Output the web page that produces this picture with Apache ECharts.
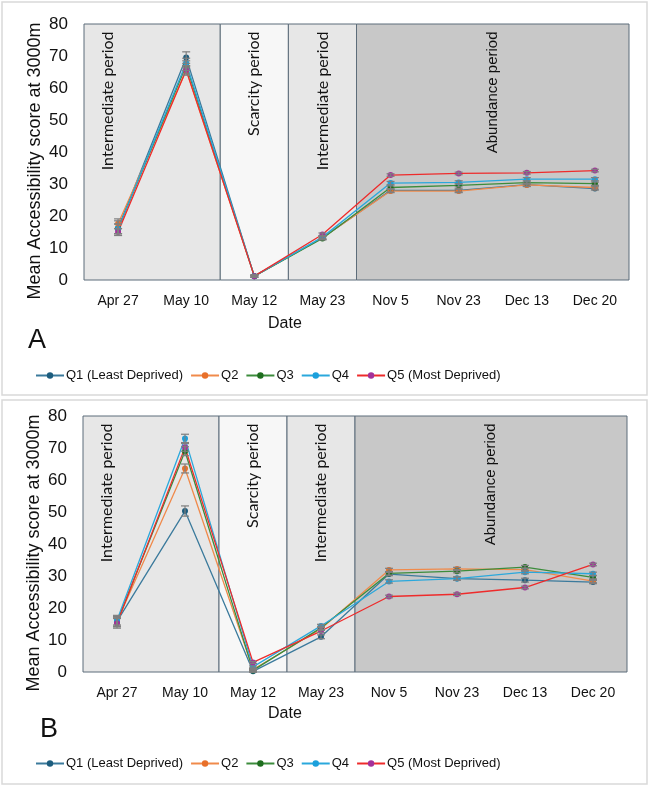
<!DOCTYPE html>
<html>
<head>
<meta charset="utf-8">
<script src="https://cdn.jsdelivr.net/npm/echarts@6/dist/echarts.min.js"></script>
<style>html,body{margin:0;padding:0;background:#fff}#c{width:650px;height:787px}</style>
</head>
<body>
<div id="c"></div>
<script>
// ---- data ----
const categories = ['Apr 27','May 10','May 12','May 23','Nov 5','Nov 23','Dec 13','Dec 20'];
const seriesNames = ['Q1 (Least Deprived)','Q2','Q3','Q4','Q5 (Most Deprived)'];
const yTicks = [0,10,20,30,40,50,60,70,80];

// Panel A values
const A_Q1 = [16.2, 69.5, 1.2, 13.2, 28.0, 28.0, 29.8, 28.6];
const A_Q2 = [17.6, 65.5, 1.2, 13.2, 27.8, 27.8, 29.7, 28.9];
const A_Q3 = [16.0, 67.0, 1.2, 13.0, 28.9, 29.6, 30.4, 30.1];
const A_Q4 = [16.0, 67.8, 1.2, 13.4, 30.3, 30.5, 31.5, 31.5];
const A_Q5 = [15.0, 65.6, 1.2, 14.2, 32.8, 33.3, 33.5, 34.2];
// Panel A error (+/-)
const A_E1 = [2.3, 1.8, 0.3, 0.5, 0.5, 0.5, 0.5, 0.5];
const A_E2 = [1.5, 1.5, 0.3, 0.5, 0.5, 0.5, 0.5, 0.5];
const A_E3 = [1.5, 1.5, 0.3, 0.5, 0.5, 0.5, 0.5, 0.5];
const A_E4 = [1.5, 1.5, 0.3, 0.5, 0.5, 0.5, 0.5, 0.5];
const A_E5 = [1.0, 1.2, 0.3, 0.5, 0.4, 0.4, 0.4, 0.4];

// Panel B values
const B_Q1 = [15.8, 50.3, 0.2, 11.0, 30.6, 29.2, 28.7, 28.1];
const B_Q2 = [15.8, 63.6, 0.8, 13.5, 31.9, 32.2, 32.0, 28.4];
const B_Q3 = [15.6, 69.0, 0.5, 13.8, 30.8, 31.5, 32.8, 29.6];
const B_Q4 = [16.2, 73.0, 1.6, 14.4, 28.3, 29.2, 31.2, 30.7];
const B_Q5 = [15.2, 70.2, 3.0, 12.8, 23.6, 24.3, 26.4, 33.6];
// Panel B error (+/-)
const B_E1 = [1.5, 1.6, 0.3, 0.6, 0.5, 0.5, 0.6, 0.5];
const B_E2 = [1.5, 1.4, 0.3, 0.5, 0.5, 0.5, 0.5, 0.5];
const B_E3 = [1.5, 1.4, 0.3, 0.5, 0.5, 0.5, 0.5, 0.5];
const B_E4 = [1.5, 1.3, 0.3, 0.5, 0.5, 0.5, 0.5, 0.5];
const B_E5 = [1.5, 1.2, 0.3, 0.5, 0.4, 0.4, 0.4, 0.4];

// periods: [label, fromCategoryEdge, toCategoryEdge]
const periodNames = ['Intermediate period','Scarcity period','Intermediate period','Abundance period'];
const periodFrom = [0, 2, 3, 4];
const periodTo = [2, 3, 4, 8];

// ---- styles ----
const lineColors = ['#3b7a9c','#f08a4b','#3c8c3c','#2aa8dc','#ee2b2b'];
const dotColors  = ['#1d5d7e','#e8702a','#1f6e1f','#1ba0dc','#a3319a'];
const periodFill = ['#e7e7e7','#f7f7f7','#e7e7e7','#c8c8c8'];
const SANS = '"Liberation Sans",Arial,sans-serif';

const panels = [
  {vals:[A_Q1,A_Q2,A_Q3,A_Q4,A_Q5], errs:[A_E1,A_E2,A_E3,A_E4,A_E5], grid:{left:84, top:24, width:545, height:256}},
  {vals:[B_Q1,B_Q2,B_Q3,B_Q4,B_Q5], errs:[B_E1,B_E2,B_E3,B_E4,B_E5], grid:{left:83, top:416, width:544, height:256}}
];

const grids = [], xAxes = [], yAxes = [], series = [];
panels.forEach((p, pi) => {
  grids.push(Object.assign({containLabel:false}, p.grid));
  xAxes.push({
    type:'category', gridIndex:pi, data:categories, boundaryGap:true,
    axisLine:{show:false}, axisTick:{show:false}, splitLine:{show:false},
    axisLabel:{fontFamily:SANS, fontSize:14, color:'#111', margin:14, interval:0}
  });
  yAxes.push({
    type:'value', gridIndex:pi, min:0, max:80, interval:10,
    axisLine:{show:false}, axisTick:{show:false}, splitLine:{show:false},
    axisLabel:{fontFamily:SANS, fontSize:17, color:'#111', margin:16},
    name:'Mean Accessibility score at 3000m', nameLocation:'middle', nameGap:40,
    nameMoveOverlap:false,
    nameTextStyle:{fontFamily:SANS, fontSize:18, color:'#111', padding:[0,18,0,0]}
  });
});
// hidden value axes for period backgrounds (category edges)
panels.forEach((p, pi) => {
  xAxes.push({type:'value', gridIndex:pi, min:0, max:categories.length, show:false});
});

panels.forEach((p, pi) => {
  // period background
  series.push({
    type:'line', xAxisIndex:2+pi, yAxisIndex:pi, data:[], silent:true, z:0,
    markArea:{
      silent:true,
      data: periodNames.map((nm, k) => [
        {xAxis:periodFrom[k], name:nm,
         itemStyle:{color:periodFill[k], borderColor:'#5d6d7a', borderWidth:1},
         label:{
           show:true, position:'insideTop', rotate:90, align:'right', verticalAlign:'middle',
           distance:8, offset: k===0 ? [0,-44] : [0,0],
           fontFamily: k===3 ? SANS : 'Lato, "Open Sans", sans-serif',
           fontSize: k===3 ? 15 : 16, color:'#111'
         }},
        {xAxis:periodTo[k]}
      ])
    }
  });
  // lines
  p.vals.forEach((v, si) => {
    series.push({
      name:seriesNames[si], type:'line', xAxisIndex:pi, yAxisIndex:pi, data:v, z:3,
      symbol:'circle', symbolSize:6, showSymbol:true,
      lineStyle:{color:lineColors[si], width:1.3},
      itemStyle:{color:dotColors[si], borderWidth:0},
      emphasis:{disabled:true}
    });
  });
  // error bars
  p.vals.forEach((v, si) => {
    const errs = p.errs[si];
    series.push({
      type:'custom', xAxisIndex:pi, yAxisIndex:pi, z:4, silent:true,
      data: v.map((val, i) => [i, val, errs[i]]),
      encode:{x:0, y:1},
      renderItem:(params, api) => {
        const x = api.value(0), y = api.value(1), e = api.value(2);
        const top = api.coord([x, y + e]);
        const bot = api.coord([x, y - e]);
        const w = 4;
        const st = {stroke:'#7f7f7f', lineWidth:1.2};
        return {type:'group', children:[
          {type:'line', shape:{x1:top[0], y1:top[1], x2:bot[0], y2:bot[1]}, style:st},
          {type:'line', shape:{x1:top[0]-w, y1:top[1], x2:top[0]+w, y2:top[1]}, style:st},
          {type:'line', shape:{x1:bot[0]-w, y1:bot[1], x2:bot[0]+w, y2:bot[1]}, style:st}
        ]};
      }
    });
  });
});

const legendCommon = {
  data: seriesNames, left:30, itemWidth:28, itemHeight:8, itemGap:7,
  textStyle:{fontFamily:SANS, fontSize:13, color:'#111', padding:[0,0,0,-3]},
  selectedMode:false
};

const option = {
  animation:false,
  backgroundColor:'#fff',
  grid: grids,
  xAxis: xAxes,
  yAxis: yAxes,
  legend: [
    Object.assign({top:364}, legendCommon),
    Object.assign({top:752}, legendCommon)
  ],
  series: series,
  graphic: [
    {type:'rect', shape:{x:2, y:2, width:645, height:393}, style:{fill:'none', stroke:'#d9d9d9', lineWidth:1.5}, z:-10, silent:true},
    {type:'rect', shape:{x:2, y:400, width:645, height:384}, style:{fill:'none', stroke:'#d9d9d9', lineWidth:1.5}, z:-10, silent:true},
    {type:'text', left:268, top:316, style:{text:'Date', font:'16px ' + SANS, fill:'#111'}},
    {type:'text', left:268, top:706, style:{text:'Date', font:'16px ' + SANS, fill:'#111'}},
    {type:'text', left:28, top:327, style:{text:'A', font:'27px ' + SANS, fill:'#111'}},
    {type:'text', left:40, top:716, style:{text:'B', font:'27px ' + SANS, fill:'#111'}}
  ]
};

const chart = echarts.init(document.getElementById('c'), null, {renderer:'canvas'});
chart.setOption(option);
</script>
</body>
</html>
